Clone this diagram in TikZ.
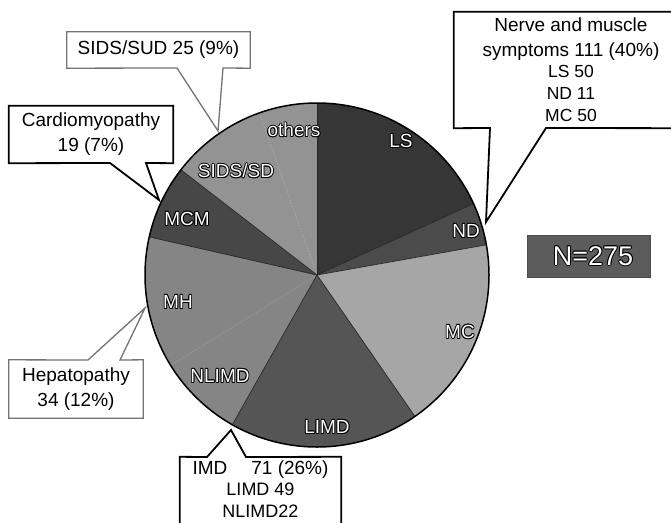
\documentclass[tikz,border=0pt]{standalone}
\usepackage{fontspec}
\setmainfont{Liberation Sans}
\usetikzlibrary{calc}
\definecolor{cLS}{HTML}{363636}
\definecolor{cND}{HTML}{4B4B4B}
\definecolor{cMC}{HTML}{A6A6A6}
\definecolor{cLIMD}{HTML}{555555}
\definecolor{cMH}{HTML}{858585}
\definecolor{cMCM}{HTML}{474747}
\definecolor{cSIDS}{HTML}{939393}
\definecolor{cN}{HTML}{5C5C5C}
\tikzset{
  plab/.style={inner sep=0pt, font=\fontsize{19}{23}\selectfont},
  nlab/.style={inner sep=0pt, font=\fontsize{27}{30}\selectfont},
  boxtxt/.style={inner sep=0pt, align=center, font=\fontsize{19}{25}\selectfont},
  blk/.style={draw=black, line width=1.8pt, line join=miter},
  gry/.style={draw=black!55, line width=1.3pt, line join=miter},
  sliceedge/.style={draw=black!85, line width=0.7pt},
}
% outlined white label: [style]{name}{x,y}{text}
\newcommand\olabel[4][plab]{%
  \foreach \a in {0,45,...,315}{\node[#1,text=black] at ([shift={(\a:0.9)}]#3) {#4};}
  \node[#1,text=white] (#2) at (#3) {#4};
}
\newcommand\pieslice[3]{% colour, start, end
  \fill[#1] (C) -- ([shift={(#2:\R)}]C) arc[start angle=#2,end angle=#3,radius=\R] -- cycle;
}
\begin{document}
\begin{tikzpicture}[x=1pt,y=-1pt]
\useasboundingbox (0,0) rectangle (671,522);
\fill[white] (0,0) rectangle (671,522);
% ---------- pie ----------
\coordinate (C) at (317,275);
\def\R{172}
\pieslice{cLS}{-90}{-24.5}
\pieslice{cND}{-24.5}{-10.1}
\pieslice{cMC}{-10.1}{55.3}
\pieslice{cLIMD}{55.3}{119.5}
\pieslice{cMH}{119.5}{148.3}
\pieslice{cMH}{148.3}{192.8}
\pieslice{cMCM}{192.8}{217.7}
\pieslice{cSIDS}{217.7}{250.4}
\pieslice{cSIDS}{250.4}{270}
\foreach \a in {-90,-24.5,-10.1,55.3,119.5,192.8,217.7}
  \draw[sliceedge] (C) -- ([shift={(\a:\R)}]C);
\draw[line width=1.5pt] (C) circle[radius=\R];
% ---------- slice labels ----------
\olabel{lothers}{294,130}{others}
\olabel{lLS}{401,141}{LS}
\olabel{lND}{466,231}{ND}
\olabel{lMC}{460,332}{MC}
\olabel{lLIMD}{327,427}{LIMD}
\olabel{lNLIMD}{220,376}{NLIMD}
\olabel{lMH}{178,302}{MH}
\olabel{lMCM}{187,219}{MCM}
\olabel{lSIDS}{236,171}{SIDS/SD}
% ---------- SIDS/SUD callout ----------
\node[boxtxt, minimum width=183pt, minimum height=36pt] (sids) at (158.5,50) {SIDS/SUD 25 (9\%)};
\coordinate (sidsL) at (177,68);
\coordinate (sidsR) at (223,68);
\coordinate (sidsT) at (218,131);
\draw[gry] (sids.south west) -- (sids.north west) -- (sids.north east) -- (sids.south east)
  -- (sidsR) -- (sidsT) -- (sidsL) -- cycle;
% ---------- Cardiomyopathy callout ----------
\node[boxtxt, minimum width=164pt, minimum height=57pt] (cardio) at (91,134.5) {Cardiomyopathy\\19 (7\%)};
\coordinate (cardL) at (110,163);
\coordinate (cardR) at (146,163);
\coordinate (cardT) at (159,200);
\draw[blk] (cardio.south west) -- (cardio.north west) -- (cardio.north east) -- (cardio.south east)
  -- (cardR) -- (cardT) -- (cardL) -- cycle;
% ---------- Nerve and muscle callout ----------
\node[boxtxt, minimum width=234pt, minimum height=116pt] (nerve) at (571,70)
  {Nerve and muscle\\symptoms 111 (40\%)\\[-4pt]{\fontsize{17.5}{21}\selectfont LS 50}\\[-3pt]{\fontsize{17.5}{21}\selectfont ND 11}\\[-3pt]{\fontsize{17.5}{21}\selectfont MC 50}};
\coordinate (nerveL) at (490,128);
\coordinate (nerveR) at (546,128);
\coordinate (nerveT) at (486,222);
\draw[blk] (nerveL) -- (nerve.south west) -- (nerve.north west) -- (nerve.north east)
  -- (nerve.south east) -- (nerveR) -- (nerveT) -- cycle;
% ---------- Hepatopathy callout ----------
\node[boxtxt, minimum width=134pt, minimum height=58pt] (hep) at (76,389) {Hepatopathy\\34 (12\%)};
\coordinate (hepL) at (88,360);
\coordinate (hepR) at (120,360);
\coordinate (hepT) at (145,308);
\draw[gry] (hep.south west) -- (hep.north west) -- (hepL) -- (hepT) -- (hepR)
  -- (hep.north east) -- (hep.south east) -- cycle;
% ---------- IMD callout ----------
\node[inner sep=0pt, minimum width=161pt, minimum height=88pt] (imd) at (260.5,501) {};
\node[boxtxt, font=\fontsize{18}{21.5}\selectfont] (imdtxt) at (260.5,489)
  {{\fontsize{19}{21.5}\selectfont IMD\hspace{24pt}71 (26\%)}\\LIMD 49\\NLIMD22};
\coordinate (imdL) at (207,457);
\coordinate (imdR) at (246,457);
\coordinate (imdT) at (231,430);
\draw[blk] (imd.south west) -- (imd.north west) -- (imdL) -- (imdT) -- (imdR)
  -- (imd.north east) -- (imd.south east) -- cycle;
% ---------- N=275 ----------
\node[fill=cN, draw=black!70, line width=1pt, minimum width=123pt, minimum height=42pt, inner sep=0pt] (nbox) at (588.5,256) {};
\olabel[nlab]{ntext}{593,256}{N=275}
\end{tikzpicture}
\end{document}
